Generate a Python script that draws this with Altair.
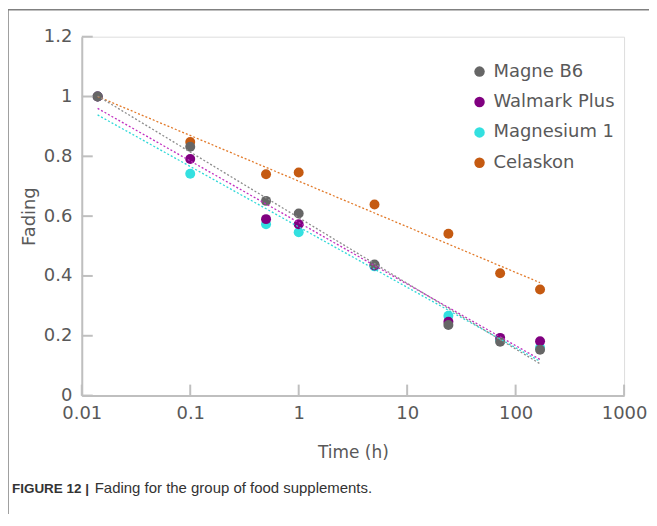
import altair as alt
import pandas as pd

series_names = ["Magne B6", "Walmark Plus", "Magnesium 1", "Celaskon"]
times = [0.014, 0.1, 0.5, 1, 5, 24, 72, 168]
magne_b6 = [1.0, 0.832, 0.651, 0.609, 0.438, 0.236, 0.180, 0.153]
walmark_plus = [1.0, 0.791, 0.590, 0.573, 0.435, 0.247, 0.193, 0.182]
magnesium_1 = [1.0, 0.742, 0.573, 0.546, 0.432, 0.267, 0.185, 0.160]
celaskon = [1.0, 0.848, 0.740, 0.746, 0.639, 0.541, 0.409, 0.355]

x_ticks = [0.01, 0.1, 1, 10, 100, 1000]
y_ticks = [0, 0.2, 0.4, 0.6, 0.8, 1.0, 1.2]
caption_bold = ["FIGURE 12 |"]
caption_text = ["Fading for the group of food supplements."]

point_colors = ["#666666", "#800080", "#33e0e0", "#c55a11"]
line_colors = ["#8c8c8c", "#c030c0", "#30d8d8", "#e27a2a"]

# draw order: Celaskon first, Magne B6 last (on top)
values_by_series = {
    "Celaskon": celaskon,
    "Magnesium 1": magnesium_1,
    "Walmark Plus": walmark_plus,
    "Magne B6": magne_b6,
}
rows = []
for name, vals in values_by_series.items():
    for t, v in zip(times, vals):
        rows.append({"series": name, "time": t, "fading": v})
df = pd.DataFrame(rows)

W, H = 544, 360
FONT = "DejaVu Sans"
TXT = "#595959"
AX = "#bfbfbf"

xscale = alt.Scale(type="log", domain=[0.01, 1000])
yscale = alt.Scale(domain=[0, 1.2], nice=False, zero=True)

x_axis = alt.Axis(values=x_ticks, format="~g", grid=False, ticks=False, tickSize=0,
                  domainColor=AX, domainWidth=2, labelFont=FONT, labelFontSize=18,
                  labelColor=TXT, labelPadding=9, labelFlush=False,
                  titleFont=FONT, titleFontSize=17, titleFontWeight="normal",
                  titleColor=TXT, titlePadding=22)
y_axis = alt.Axis(values=y_ticks, format="~g", grid=False, ticks=False, tickSize=0,
                  domainColor=AX, domainWidth=2, labelFont=FONT, labelFontSize=18,
                  labelColor=TXT, labelPadding=10,
                  titleFont=FONT, titleFontSize=18, titleFontWeight="normal",
                  titleColor=TXT, titlePadding=5)

base = alt.Chart(df)

points = base.mark_circle(size=100, opacity=1).encode(
    x=alt.X("time:Q", scale=xscale, title="Time (h)", axis=x_axis),
    y=alt.Y("fading:Q", scale=yscale, title="Fading", axis=y_axis),
    color=alt.Color("series:N", scale=alt.Scale(domain=series_names, range=point_colors),
                    legend=alt.Legend(title=None, orient="none", legendX=390, legendY=26,
                                      symbolType="circle", symbolSize=110, symbolStrokeWidth=0,
                                      labelFont=FONT, labelFontSize=18, labelColor=TXT,
                                      labelOffset=5, rowPadding=12.5, padding=0)),
)

trend = base.transform_regression(
    "time", "fading", method="log", groupby=["series"], extent=[0.014, 168]
).mark_line(strokeDash=[2, 2], strokeWidth=1.3).encode(
    x=alt.X("time:Q", scale=xscale, title="Time (h)", axis=x_axis),
    y=alt.Y("fading:Q", scale=yscale, title="Fading", axis=y_axis),
    color=alt.Color("series:N", scale=alt.Scale(domain=series_names, range=line_colors), legend=None),
)

ytick_df = pd.DataFrame({"v": y_ticks})
xtick_df = pd.DataFrame({"v": x_ticks})

yticks = alt.Chart(ytick_df).mark_rule(color=AX, strokeWidth=2).encode(
    y=alt.Y("v:Q", scale=yscale, title="Fading", axis=y_axis),
    x=alt.value(0), x2=alt.value(11),
)
xticks = alt.Chart(xtick_df).mark_rule(color=AX, strokeWidth=2).encode(
    x=alt.X("v:Q", scale=xscale, title="Time (h)", axis=x_axis),
    y=alt.value(H), y2=alt.value(H - 11),
)

border_left = alt.Chart(pd.DataFrame({"a": [0]})).mark_rule(color="#808080", strokeWidth=1.5).encode(
    x=alt.value(-74), y=alt.value(-27), y2=alt.value(H + 130)
)
border_top = alt.Chart(pd.DataFrame({"a": [0]})).mark_rule(color="#808080", strokeWidth=1.5).encode(
    x=alt.value(-74), x2=alt.value(W + 40), y=alt.value(-27)
)

cap1 = alt.Chart(pd.DataFrame({"t": caption_bold})).mark_text(
    align="left", baseline="alphabetic", font="Liberation Sans", fontSize=13.5,
    fontWeight="bold", color="#333333"
).encode(text="t:N", x=alt.value(-70), y=alt.value(458))
cap2 = alt.Chart(pd.DataFrame({"t": caption_text})).mark_text(
    align="left", baseline="alphabetic", font="Liberation Sans", fontSize=15,
    color="#333333"
).encode(text="t:N", x=alt.value(13), y=alt.value(458))

chart = alt.layer(points, trend, yticks, xticks, border_left, border_top, cap1, cap2).resolve_scale(
    color="independent"
).properties(
    width=W, height=H,
    autosize=alt.AutoSizeParams(type="none"),
    padding={"left": 74, "top": 28, "right": 25, "bottom": 118},
).configure_view(strokeWidth=0, stroke="transparent").configure(background="white")

chart.save("out.html", embed_options={"renderer": "svg", "actions": False})
